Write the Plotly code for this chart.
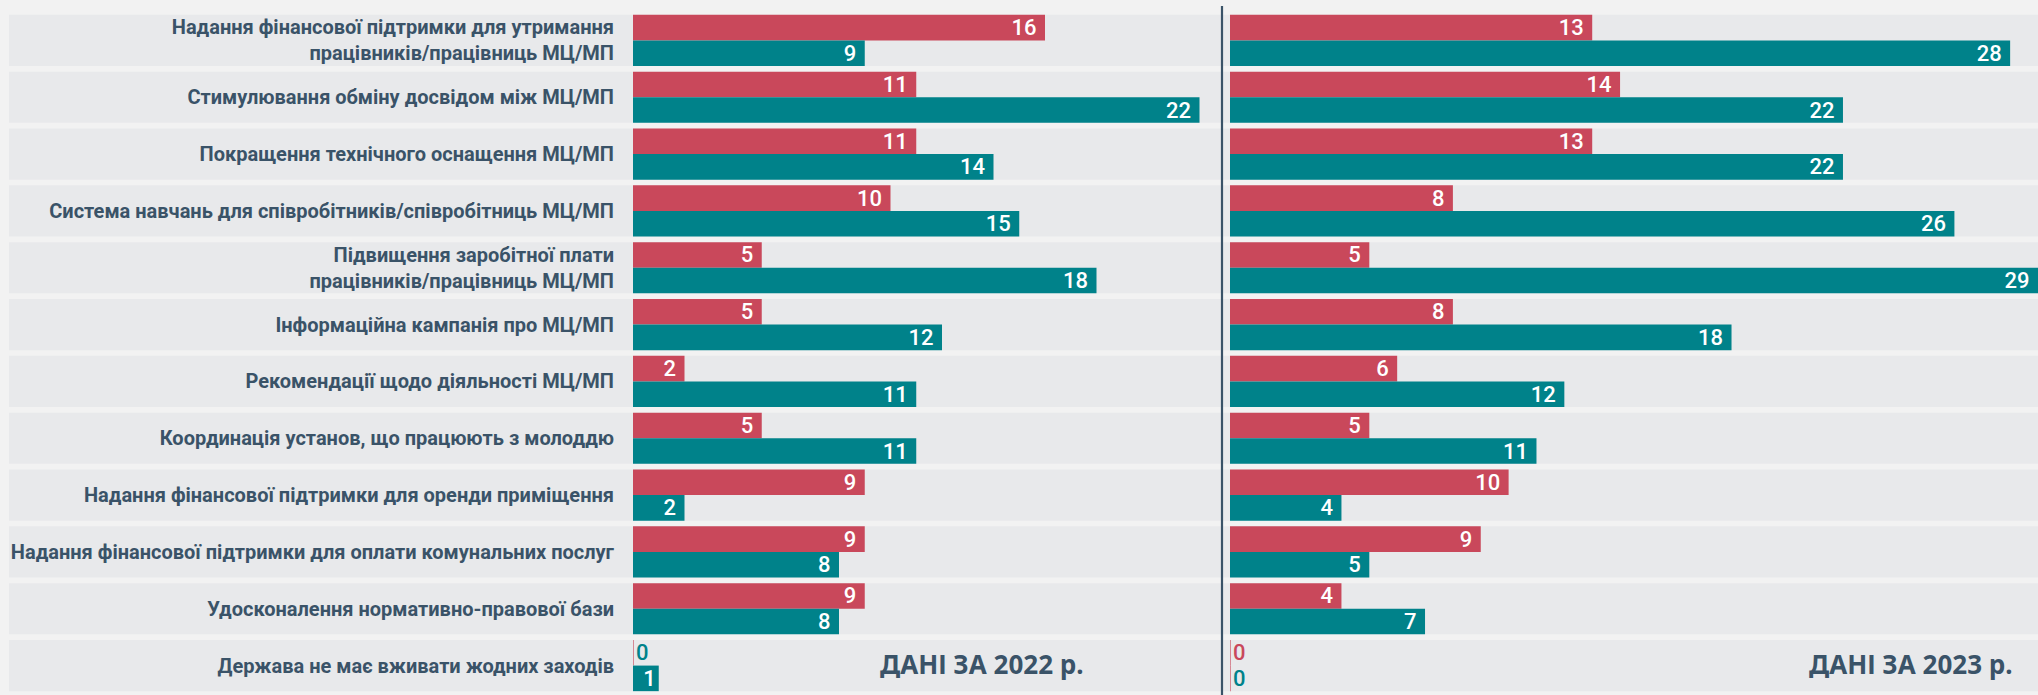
import plotly.graph_objects as go

categories = [
    "Надання фінансової підтримки для утримання<br>працівників/працівниць МЦ/МП",
    "Стимулювання обміну досвідом між МЦ/МП",
    "Покращення технічного оснащення МЦ/МП",
    "Система навчань для співробітників/співробітниць МЦ/МП",
    "Підвищення заробітної плати<br>працівників/працівниць МЦ/МП",
    "Інформаційна кампанія про МЦ/МП",
    "Рекомендації щодо діяльності МЦ/МП",
    "Координація установ, що працюють з молоддю",
    "Надання фінансової підтримки для оренди приміщення",
    "Надання фінансової підтримки для оплати комунальних послуг",
    "Удосконалення нормативно-правової бази",
    "Держава не має вживати жодних заходів",
]
red_2022 = [16, 11, 11, 10, 5, 5, 2, 5, 9, 9, 9, 0]
teal_2022 = [9, 22, 14, 15, 18, 12, 11, 11, 2, 8, 8, 1]
red_2023 = [13, 14, 13, 8, 5, 8, 6, 5, 10, 9, 4, 0]
teal_2023 = [28, 22, 22, 26, 29, 18, 12, 11, 4, 5, 7, 0]
panel_titles = ["ДАНІ ЗА 2022 р.", "ДАНІ ЗА 2023 р."]

RED = "#c9485b"
TEAL = "#00828a"
INK = "#3a5368"
BAND = "#e8e9eb"
BG = "#f2f2f2"
NUM_FONT = "Roboto, Liberation Sans, sans-serif"
LAB_FONT = "Roboto, Liberation Sans, sans-serif"
PAD = "\u00a0"

W, H = 2038, 695


def bar(vals, color, zero_text_color, zero_line_color, xa, ya):
    return go.Bar(
        y=list(range(len(vals))),
        x=vals,
        orientation="h",
        xaxis=xa,
        yaxis=ya,
        marker=dict(
            color=color,
            line=dict(
                color=[zero_line_color if v == 0 else color for v in vals],
                width=[1.2 if v == 0 else 0 for v in vals],
            ),
        ),
        text=[str(v) + (PAD if v >= 2 else "") for v in vals],
        textposition=["outside" if v == 0 else "inside" for v in vals],
        insidetextanchor="end",
        textangle=0,
        constraintext="none",
        cliponaxis=False,
        textfont=dict(
            family=NUM_FONT,
            size=22,
            weight=500,
            color=[zero_text_color if v == 0 else "white" for v in vals],
        ),
        showlegend=False,
        hoverinfo="skip",
    )


fig = go.Figure()
fig.add_trace(bar(red_2022, RED, TEAL, RED, "x", "y"))
fig.add_trace(bar(teal_2022, TEAL, TEAL, TEAL, "x", "y"))
fig.add_trace(bar(red_2023, RED, RED, RED, "x2", "y2"))
fig.add_trace(bar(teal_2023, TEAL, TEAL, RED, "x2", "y2"))

n = len(categories)
shapes = []
for i in range(n):
    shapes.append(dict(
        type="rect", xref="paper", yref="y", layer="below",
        x0=9 / W, x1=1, y0=i - 0.45, y1=i + 0.45,
        fillcolor=BAND, line=dict(width=0),
    ))
shapes.append(dict(
    type="line", xref="paper", yref="paper",
    x0=1222 / W, x1=1222 / W, y0=-0.01, y1=(H - 6 - 1) / (H - 13),
    line=dict(color=INK, width=2.2),
))

fig.update_layout(
    width=W, height=H,
    margin=dict(l=0, r=0, t=12, b=1),
    paper_bgcolor=BG,
    plot_bgcolor="rgba(0,0,0,0)",
    barmode="group",
    bargap=0.1,
    bargroupgap=0,
    shapes=shapes,
    xaxis=dict(domain=[633 / W, 1222 / W], range=[0, 589 / 25.75],
               visible=False, fixedrange=True, automargin=False),
    xaxis2=dict(domain=[1230 / W, 1], range=[0, 29.0],
                visible=False, fixedrange=True, anchor="y2", automargin=False),
    yaxis=dict(
        range=[n - 0.5, -0.5],
        tickmode="array",
        tickvals=list(range(n)),
        ticktext=categories,
        showgrid=False, zeroline=False, showline=False,
        ticks="", ticklabelstandoff=18, automargin=False,
        tickfont=dict(family=LAB_FONT, size=20, color=INK, weight="bold"),
        anchor="x",
    ),
    yaxis2=dict(
        range=[n - 0.5, -0.5], matches="y", anchor="x2", automargin=False,
        showticklabels=False, showgrid=False, zeroline=False, showline=False,
    ),
    annotations=[
        dict(text=panel_titles[0], xref="paper", yref="y", x=982 / W, y=n - 1,
             yshift=2,
             xanchor="center", yanchor="middle", showarrow=False,
             font=dict(family="Noto Sans, Open Sans, sans-serif", size=26,
                       color=INK, weight="bold")),
        dict(text=panel_titles[1], xref="paper", yref="y", x=2015 / W, y=n - 1,
             yshift=2,
             xanchor="right", yanchor="middle", showarrow=False,
             font=dict(family="Noto Sans, Open Sans, sans-serif", size=26,
                       color=INK, weight="bold")),
    ],
)

fig.write_html(
    "out.html",
    config={"displayModeBar": False},
    post_script="document.body.style.margin='0';document.body.style.overflow='hidden';",
)
